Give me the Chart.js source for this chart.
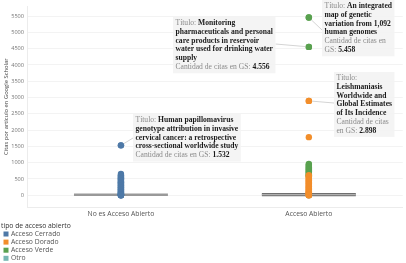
<!DOCTYPE html>
<html><head><meta charset="utf-8">
<script src="https://cdn.jsdelivr.net/npm/chart.js@4/dist/chart.umd.min.js"></script>
<style>html,body{margin:0;padding:0;background:#fff;overflow:hidden}#wrap{width:406px;height:263px;position:relative}</style>
</head><body><div id="wrap"><canvas id="c" width="406" height="263"></canvas></div>
<script>
// ---- data ----
const categories = ['No es Acceso Abierto', 'Acceso Abierto'];
const yTicks = [0,500,1000,1500,2000,2500,3000,3500,4000,4500,5000,5500];
const seriesNames = ['Acceso Cerrado', 'Acceso Dorado', 'Acceso Verde', 'Otro'];
// citations per article (Acceso Cerrado, in "No es Acceso Abierto")
const cerradoNoAbierto = [1532, 652, 618, 590, 571, 548, 522, 505, 483, 466, 441, 425, 402, 386, 361, 344, 322, 305, 287, 262, 247, 226, 208, 187, 166, 148, 131, 112, 97, 84, 71, 58, 46, 35, 27, 19, 12, 7, 3, 1, 0];
// citations per article (Acceso Dorado, in "Acceso Abierto")
const doradoAbierto = [2898, 1785, 615, 588, 562, 537, 511, 486, 462, 438, 412, 391, 366, 343, 318, 296, 273, 251, 228, 206, 184, 163, 141, 122, 103, 86, 69, 53, 40, 28, 18, 10, 4, 0];
// citations per article (Acceso Verde, in "Acceso Abierto")
const verdeAbierto = [5458, 4556, 962, 934, 905, 878, 851, 822, 796, 768, 741, 713, 688, 662, 640, 612, 585];
// citations per article (Otro, in "Acceso Abierto")
const otroAbierto = [42, 25, 11, 3];
// grey reference line value per category
const refLine = [18, 22];
// tooltip-style notes
const notes = [
  {series:0, cat:0, value:1532, lines:[[['g','Título: '],['b','Human papillomavirus']],[['b','genotype attribution in invasive']],[['b','cervical cancer: a retrospective']],[['b','cross-sectional worldwide study']],[['g','Cantidad de citas en GS: '],['b','1.532']]]},
  {series:2, cat:1, value:4556, lines:[[['g','Título: '],['b','Monitoring']],[['b','pharmaceuticals and personal']],[['b','care products in reservoir']],[['b','water used for drinking water']],[['b','supply']],[['g','Cantidad de citas en GS: '],['b','4.556']]]},
  {series:2, cat:1, value:5458, lines:[[['g','Título: '],['b','An integrated']],[['b','map of genetic']],[['b','variation from 1,092']],[['b','human genomes']],[['g','Cantidad de citas en']],[['g','GS: '],['b','5.458']]]},
  {series:1, cat:1, value:2898, lines:[[['g','Título:']],[['b','Leishmaniasis']],[['b','Worldwide and']],[['b','Global Estimates']],[['b','of Its Incidence']],[['g','Cantidad de citas']],[['g','en GS: '],['b','2.898']]]}
];
// ---- layout / styles ----
const colors = ['#4e79a7', '#f28e2b', '#59a14f', '#76b7b2'];
const noteLayout = [
  {x:133, y:114, side:'left', ay:24},
  {x:173, y:17, side:'right', ay:27},
  {x:322, y:0, side:'left', ay:30},
  {x:334, y:72, side:'left', ay:31}
];
const fam = '"Open Sans", "Noto Sans", sans-serif';
const xFont = {family: fam, size: 6.8};
const yTickFont = {family: fam, size: 5.6};
const yTitleFont = {family: fam, size: 5.8};

function pts(arr, cat){ return arr.map(v => ({x: categories[cat], y: v})); }
const seriesData = [pts(cerradoNoAbierto,0), pts(doradoAbierto,1), pts(verdeAbierto,1), pts(otroAbierto,1)];

const plugin = {
  id: 'extras',
  beforeDatasetsDraw(chart){
    const {ctx, scales:{x, y}} = chart;
    const half = (x.getPixelForValue(1) - x.getPixelForValue(0)) / 4;
    refLine.forEach((v, i) => {
      const cx = x.getPixelForValue(i), py = y.getPixelForValue(v);
      ctx.save();
      ctx.lineCap = 'butt';
      if (i === 1) {
        ctx.strokeStyle = '#6f6f6f'; ctx.lineWidth = 3.2;
        ctx.beginPath(); ctx.moveTo(cx - half, py); ctx.lineTo(cx + half, py); ctx.stroke();
        ctx.strokeStyle = '#b0b0b0'; ctx.lineWidth = 1.2;
        ctx.beginPath(); ctx.moveTo(cx - half, py); ctx.lineTo(cx + half, py); ctx.stroke();
      } else {
        ctx.strokeStyle = '#999'; ctx.lineWidth = 2.6;
        ctx.beginPath(); ctx.moveTo(cx - half, py); ctx.lineTo(cx + half, py); ctx.stroke();
      }
      ctx.restore();
    });
  },
  afterDatasetsDraw(chart){
    const {ctx, scales:{x, y}} = chart;
    const fs = 7.6, lh = 8.7, padX = 2.5, padY = 2;
    const fg = fs + 'px "Liberation Serif", "DejaVu Serif", serif';
    const fb = 'bold ' + fs + 'px "Liberation Serif", "DejaVu Serif", serif';
    notes.forEach((n, i) => {
      const L = noteLayout[i];
      ctx.save();
      let w = 0;
      n.lines.forEach(line => {
        let lw = 0;
        line.forEach(([k, t]) => { ctx.font = k === 'b' ? fb : fg; lw += ctx.measureText(t).width; });
        w = Math.max(w, lw);
      });
      const bw = w + padX * 2, bh = n.lines.length * lh + padY * 2;
      const px = x.getPixelForValue(n.cat), py = y.getPixelForValue(n.value);
      const ax = L.side === 'left' ? L.x : L.x + bw;
      ctx.strokeStyle = '#d4d4d4'; ctx.lineWidth = 1;
      ctx.beginPath(); ctx.moveTo(px, py); ctx.lineTo(ax, L.y + L.ay); ctx.stroke();
      ctx.fillStyle = 'rgba(244,244,244,0.97)';
      ctx.fillRect(L.x, L.y, bw, bh);
      ctx.textBaseline = 'middle';
      n.lines.forEach((line, li) => {
        let tx = L.x + padX;
        const ty = L.y + padY + lh * li + lh / 2;
        line.forEach(([k, t]) => {
          ctx.font = k === 'b' ? fb : fg;
          ctx.fillStyle = k === 'b' ? '#1a1a1a' : '#8a8a8a';
          ctx.fillText(t, tx, ty);
          tx += ctx.measureText(t).width;
        });
      });
      ctx.restore();
      ctx.save();
      ctx.fillStyle = colors[n.series];
      ctx.beginPath(); ctx.arc(px, py, 3.2, 0, Math.PI * 2); ctx.fill();
      ctx.restore();
    });
  },
  afterDraw(chart){
    const ctx = chart.ctx;
    ctx.save();
    ctx.font = '6.8px ' + fam;
    ctx.textBaseline = 'middle';
    ctx.fillStyle = '#333';
    ctx.fillText('tipo de acceso abierto', 1, 226);
    seriesNames.forEach((s, i) => {
      const yy = 234 + i * 8.1;
      ctx.fillStyle = colors[i];
      ctx.fillRect(3.5, yy - 2.5, 5, 5);
      ctx.fillStyle = '#555';
      ctx.fillText(s, 11, yy);
    });
    ctx.restore();
  }
};

new Chart(document.getElementById('c'), {
  type: 'line',
  data: {
    labels: categories,
    datasets: seriesNames.map((s, i) => ({
      label: s,
      data: seriesData[i],
      showLine: false,
      backgroundColor: colors[i],
      borderColor: colors[i],
      pointRadius: 3.2,
      pointBorderWidth: 0,
      pointHoverRadius: 3.2
    }))
  },
  options: {
    responsive: false,
    animation: false,
    events: [],
    layout: {padding: {left: 0, right: 1, top: 1, bottom: 44}},
    plugins: {legend: {display: false}, tooltip: {enabled: false}},
    scales: {
      x: {
        type: 'category',
        offset: true,
        grid: {display: false, drawTicks: false},
        border: {display: true, color: '#ececec'},
        ticks: {font: xFont, color: '#555', padding: 3},
        afterFit(s){ s.height = 12; }
      },
      y: {
        min: -360, max: 5800,
        afterBuildTicks(s){ s.ticks = yTicks.map(v => ({value: v})); },
        grid: {color: '#f0f0f0', drawTicks: false, lineWidth: 0.8},
        border: {display: true, color: '#ececec'},
        ticks: {font: yTickFont, color: '#777', padding: 3, callback: v => String(v)},
        title: {display: true, text: 'Citas por artículo en Google Scholar', font: yTitleFont, color: '#444', padding: {top: 3, bottom: 0}},
        afterFit(s){ s.width = 27; }
      }
    }
  },
  plugins: [plugin]
});
</script></body></html>
